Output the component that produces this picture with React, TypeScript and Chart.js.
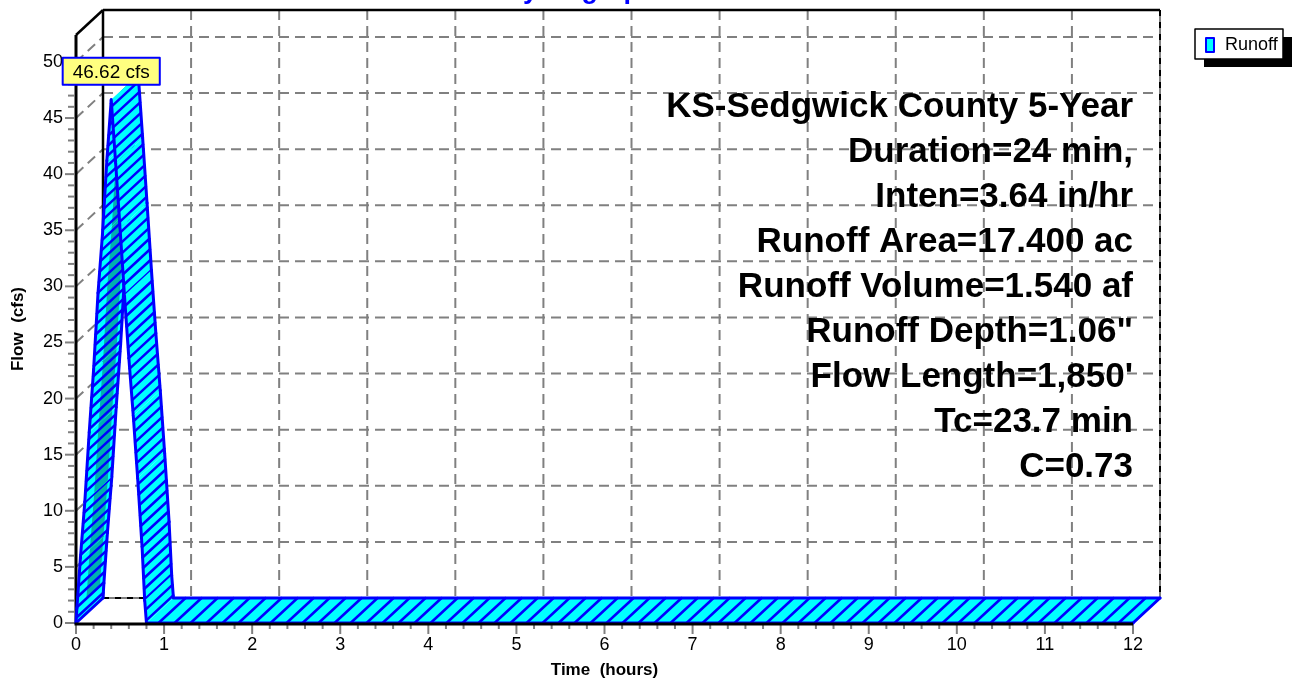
import React, { useEffect, useRef } from "react";
import { Chart, registerables } from "chart.js";

Chart.register(...registerables);

// ---------- data ----------
const chartTitle = "Hydrograph";
const seriesName = "Runoff";
const xAxisTitle = "Time  (hours)";
const yAxisTitle = "Flow  (cfs)";
const timeHours = [0, 0.01, 0.05, 0.1, 0.15, 0.2, 0.25, 0.3, 0.35, 0.4, 0.45, 0.5, 0.55, 0.6, 0.65, 0.7, 0.75, 0.78, 0.8, 12.0];
const flowCfs = [0, 1.3, 5.8, 10.8, 17.0, 22.6, 29.4, 34.6, 41.2, 46.62, 41.0, 35.2, 29.2, 23.6, 18.5, 12.9, 6.8, 2.0, 0, 0];
const xTickValues = [0, 1, 2, 3, 4, 5, 6, 7, 8, 9, 10, 11, 12];
const yTickValues = [0, 5, 10, 15, 20, 25, 30, 35, 40, 45, 50];
const xMax = 12;
const yMax = 52.4;
const peakUnit = "cfs";
const annotationLines = [
  "KS-Sedgwick County 5-Year",
  "Duration=24 min,",
  "Inten=3.64 in/hr",
  "Runoff Area=17.400 ac",
  "Runoff Volume=1.540 af",
  "Runoff Depth=1.06\"",
  "Flow Length=1,850'",
  "Tc=23.7 min",
  "C=0.73",
];

// ---------- style ----------
const FONT = "'Liberation Sans', Arial, Helvetica, sans-serif";
const BLUE = "#0000FF";
const CYAN = "#00FFFF";
const TEAL = "#00B0B0";
const GRID = "#808080";
const DX = 27;
const DY = -25;

type P = { x: number; y: number };

function seg(ctx: CanvasRenderingContext2D, x1: number, y1: number, x2: number, y2: number) {
  ctx.beginPath();
  ctx.moveTo(x1, y1);
  ctx.lineTo(x2, y2);
  ctx.stroke();
}

function drawRibbon(ctx: CanvasRenderingContext2D, pts: P[]) {
  const lens: { s0: number; m: number }[] = [];
  let acc = 0;
  for (let i = 0; i < pts.length - 1; i++) {
    const a = pts[i], b = pts[i + 1];
    const m = Math.hypot((b.x - a.x) / 16, (b.y - a.y) / 10.5);
    lens.push({ s0: acc, m });
    acc += m;
  }
  ctx.lineJoin = "round";
  ctx.lineCap = "round";
  for (let i = 0; i < pts.length - 1; i++) {
    const a = pts[i], b = pts[i + 1];
    const { s0, m } = lens[i];
    if (m <= 0) continue;
    ctx.beginPath();
    ctx.moveTo(a.x, a.y);
    ctx.lineTo(b.x, b.y);
    ctx.lineTo(b.x + DX, b.y + DY);
    ctx.lineTo(a.x + DX, a.y + DY);
    ctx.closePath();
    ctx.fillStyle = CYAN;
    ctx.fill();
    const cross = (b.x - a.x) * DY - (b.y - a.y) * DX;
    if (cross > 0 && i > 0 && i < pts.length - 2) {
      const f0 = 0.35, f1 = 0.85;
      ctx.beginPath();
      ctx.moveTo(a.x + DX * f0, a.y + DY * f0);
      ctx.lineTo(b.x + DX * f0, b.y + DY * f0);
      ctx.lineTo(b.x + DX * f1, b.y + DY * f1);
      ctx.lineTo(a.x + DX * f1, a.y + DY * f1);
      ctx.closePath();
      ctx.fillStyle = TEAL;
      ctx.fill();
    }
    ctx.strokeStyle = BLUE;
    ctx.lineWidth = 2.5;
    for (let s = Math.floor(s0) + 0.5; s < s0 + m; s += 1) {
      if (s < s0) continue;
      const f = (s - s0) / m;
      const px = a.x + (b.x - a.x) * f;
      const py = a.y + (b.y - a.y) * f;
      seg(ctx, px, py, px + DX, py + DY);
    }
    ctx.lineWidth = 3;
    seg(ctx, a.x, a.y, b.x, b.y);
    seg(ctx, a.x + DX, a.y + DY, b.x + DX, b.y + DY);
  }
  const f = pts[0], l = pts[pts.length - 1];
  ctx.lineWidth = 3;
  seg(ctx, f.x, f.y, f.x + DX, f.y + DY);
  seg(ctx, l.x, l.y, l.x + DX, l.y + DY);
}

const hydroPlugin = {
  id: "hydro3d",
  beforeDatasetsDraw(chart: any) {
    const ctx: CanvasRenderingContext2D = chart.ctx;
    const xs = chart.scales.x, ys = chart.scales.y;
    const L = xs.left, R = xs.right, T = ys.top, B = ys.bottom;
    ctx.save();
    // back-plane grid
    ctx.strokeStyle = GRID;
    ctx.lineWidth = 2;
    ctx.setLineDash([10, 6]);
    for (const v of yTickValues) {
      if (v <= 0) continue;
      const y = ys.getPixelForValue(v);
      seg(ctx, L + DX, y + DY, R + DX, y + DY);
      seg(ctx, L, y, L + DX, y + DY);
    }
    for (const h of xTickValues) {
      if (h <= 0 || h >= xMax) continue;
      const x = xs.getPixelForValue(h);
      seg(ctx, x + DX, T + DY, x + DX, B + DY);
    }
    // back frame, dashed parts
    ctx.strokeStyle = GRID;
    ctx.setLineDash([]);
    seg(ctx, R + DX, T + DY, R + DX, B + DY);
    seg(ctx, L + DX, B + DY, R + DX, B + DY);
    ctx.strokeStyle = "#000";
    ctx.setLineDash([6, 6]);
    seg(ctx, R + DX, T + DY, R + DX, B + DY);
    seg(ctx, L + DX, B + DY, R + DX, B + DY);
    ctx.setLineDash([]);
    ctx.lineWidth = 2.5;
    seg(ctx, L + DX, T + DY, R + DX, T + DY);
    seg(ctx, L + DX, T + DY, L + DX, B + DY);
    seg(ctx, L, T, L + DX, T + DY);
    // front y axis
    ctx.lineWidth = 3;
    seg(ctx, L, T, L, B);
    // ticks
    ctx.strokeStyle = GRID;
    ctx.lineWidth = 2;
    for (let v = 0; v <= yTickValues[yTickValues.length - 1]; v += 1) {
      const y = ys.getPixelForValue(v);
      const major = yTickValues.includes(v);
      seg(ctx, major ? L - 11 : L - 8, y, major ? L - 1 : L - 2, y);
    }
    for (let k = 0; k <= xMax * 5; k++) {
      const h = k / 5;
      const x = xs.getPixelForValue(h);
      const major = k % 5 === 0;
      seg(ctx, x, B + 1, x, B + (major ? 11 : 6));
    }
    ctx.restore();
  },
  afterDatasetsDraw(chart: any) {
    const ctx: CanvasRenderingContext2D = chart.ctx;
    const xs = chart.scales.x, ys = chart.scales.y;
    const L = xs.left, R = xs.right, T = ys.top, B = ys.bottom;
    const meta = chart.getDatasetMeta(0);
    const pts: P[] = meta.data.map((e: any) => ({ x: e.x, y: e.y }));
    ctx.save();
    drawRibbon(ctx, pts);
    // front x axis line
    ctx.strokeStyle = "#000";
    ctx.lineWidth = 3;
    ctx.lineCap = "butt";
    seg(ctx, L - 1.5, B + 1, R, B + 1);

    // peak label
    let pi = 0;
    flowCfs.forEach((v, i) => { if (v > flowCfs[pi]) pi = i; });
    const peak = pts[pi];
    const txt = `${flowCfs[pi].toFixed(2)} ${peakUnit}`;
    ctx.font = `19px ${FONT}`;
    const tw = ctx.measureText(txt).width;
    const bw = tw + 20, bh = 27;
    const bx = peak.x - bw / 2, by = peak.y - 15 - bh;
    ctx.fillStyle = "#FFFF80";
    ctx.fillRect(bx, by, bw, bh);
    ctx.strokeStyle = BLUE;
    ctx.lineWidth = 2;
    ctx.strokeRect(bx, by, bw, bh);
    ctx.fillStyle = "#000";
    ctx.textAlign = "center";
    ctx.textBaseline = "middle";
    ctx.fillText(txt, peak.x, by + bh / 2 + 1);

    // annotation block
    ctx.font = `bold 35px ${FONT}`;
    ctx.textAlign = "right";
    ctx.textBaseline = "middle";
    ctx.fillStyle = "#000";
    annotationLines.forEach((s, i) => ctx.fillText(s, R, T + 72 + i * 45));

    // legend with shadow
    const lx = 1195, ly = 29, lw = 88, lh = 30;
    ctx.fillStyle = "#000";
    ctx.fillRect(lx + 9, ly + 8, lw, lh);
    ctx.fillStyle = "#fff";
    ctx.fillRect(lx, ly, lw, lh);
    ctx.strokeStyle = "#000";
    ctx.lineWidth = 1.5;
    ctx.strokeRect(lx, ly, lw, lh);
    ctx.fillStyle = CYAN;
    ctx.fillRect(lx + 11, ly + 9, 8, 14);
    ctx.strokeStyle = BLUE;
    ctx.lineWidth = 2;
    ctx.strokeRect(lx + 11, ly + 9, 8, 14);
    ctx.fillStyle = "#000";
    ctx.font = `18px ${FONT}`;
    ctx.textAlign = "left";
    ctx.fillText(chart.data.datasets[0].label, lx + 30, ly + lh / 2 + 1);

    // title (mostly cut off at the top)
    ctx.font = `bold 27px ${FONT}`;
    ctx.fillStyle = BLUE;
    ctx.textAlign = "center";
    ctx.textBaseline = "alphabetic";
    ctx.fillText(chartTitle, L + 504, -2.5);
    ctx.restore();
  },
};

export default function App() {
  const ref = useRef<HTMLCanvasElement>(null);
  useEffect(() => {
    const canvas = ref.current!;
    const chart = new Chart(canvas, {
      type: "line",
      data: {
        datasets: [
          {
            label: seriesName,
            data: timeHours.map((t, i) => ({ x: t, y: flowCfs[i] })),
            borderColor: "rgba(0,0,0,0)",
            backgroundColor: CYAN,
            borderWidth: 0,
            pointRadius: 0,
            fill: false,
          },
        ],
      },
      options: {
        responsive: false,
        animation: false,
        devicePixelRatio: 1,
        layout: { padding: { left: 0, top: 35, right: 161, bottom: 0 } },
        plugins: {
          legend: { display: false },
          tooltip: { enabled: false },
          title: { display: false },
        },
        scales: {
          x: {
            type: "linear",
            min: 0,
            max: xMax,
            grid: { display: false },
            border: { display: false },
            afterBuildTicks: (s: any) => { s.ticks = xTickValues.map((v) => ({ value: v })); },
            ticks: {
              font: { family: FONT, size: 18 },
              color: "#000",
              padding: 3,
              maxRotation: 0,
              autoSkip: false,
            },
            title: {
              display: true,
              text: xAxisTitle,
              font: { family: FONT, size: 17, weight: "bold" },
              color: "#000",
              padding: { top: 0, bottom: 2 },
            },
            afterFit: (s: any) => { s.height = 60; },
          },
          y: {
            type: "linear",
            min: 0,
            max: yMax,
            grid: { display: false },
            border: { display: false },
            afterBuildTicks: (s: any) => { s.ticks = yTickValues.map((v) => ({ value: v })); },
            ticks: {
              font: { family: FONT, size: 18 },
              color: "#000",
              padding: 5,
              autoSkip: false,
            },
            title: {
              display: true,
              text: yAxisTitle,
              font: { family: FONT, size: 17, weight: "bold" },
              color: "#000",
              padding: { top: 8, bottom: 0 },
            },
            afterFit: (s: any) => { s.width = 76; },
          },
        },
      } as any,
      plugins: [hydroPlugin],
    });
    return () => chart.destroy();
  }, []);
  return (
    <div style={{ position: "absolute", left: 0, top: 0, width: 1294, height: 683, background: "#fff" }}>
      <canvas ref={ref} width={1294} height={683} style={{ display: "block" }} />
    </div>
  );
}
